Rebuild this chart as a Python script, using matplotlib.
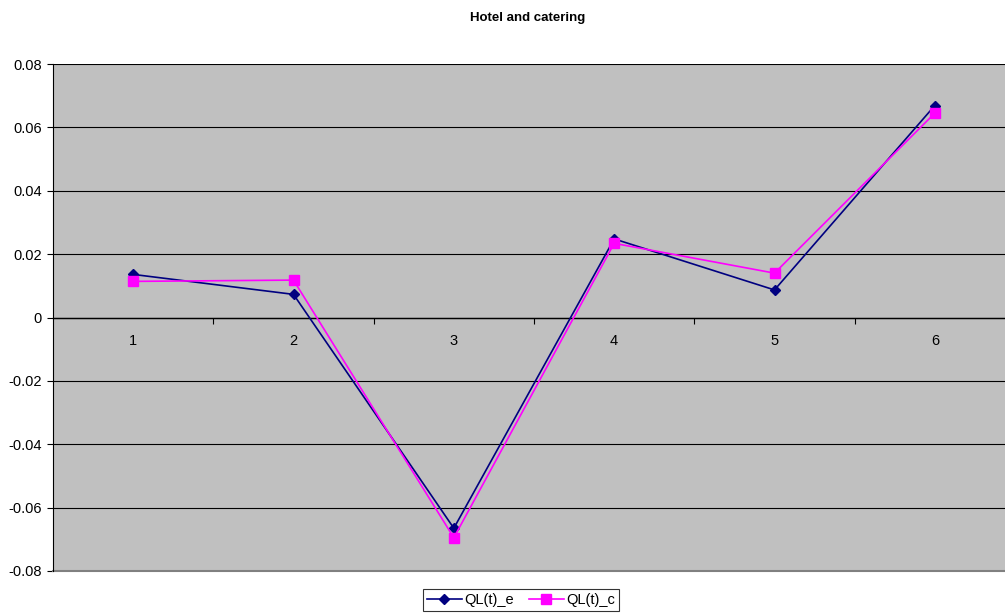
import matplotlib
matplotlib.use("Agg")
import matplotlib.pyplot as plt
from matplotlib.ticker import FixedLocator

plt.rcParams['font.family'] = ['Liberation Sans', 'DejaVu Sans']

periods = ["1", "2", "3", "4", "5", "6"]
ql_e = [0.0136, 0.0073, -0.0665, 0.0248, 0.0087, 0.0669]
ql_c = [0.0114, 0.0118, -0.0695, 0.0234, 0.0140, 0.0645]
yticks = [-0.08, -0.06, -0.04, -0.02, 0, 0.02, 0.04, 0.06, 0.08]

fig = plt.figure(figsize=(10.05, 6.16), dpi=100)
ax = fig.add_axes([53 / 1005, 45 / 616, 962 / 1005, 507 / 616])
ax.set_facecolor("#c0c0c0")

x = list(range(len(periods)))
ax.plot(x, ql_e, color="#000080", marker="D", markersize=5.5, lw=1.2, label="QL(t)_e", zorder=3)
ax.plot(x, ql_c, color="#ff00ff", marker="s", markersize=7, lw=1.2, label="QL(t)_c", zorder=3)

ax.set_xlim(-0.5, len(periods) - 0.5)
ax.set_ylim(-0.08, 0.08)
ax.set_yticks(yticks)
ax.set_yticklabels(["0" if v == 0 else f"{v:.2f}" for v in yticks], fontsize=10.5)
ax.yaxis.grid(True, color="black", lw=0.8)
ax.set_axisbelow(True)

# category axis sits on y = 0, ticks between categories
ax.spines["bottom"].set_position(("data", 0))
ax.spines["bottom"].set_color("black")
ax.spines["bottom"].set_linewidth(1.0)
ax.xaxis.set_major_locator(FixedLocator([i - 0.5 for i in range(1, len(periods))]))
ax.xaxis.set_minor_locator(FixedLocator(x))
ax.tick_params(axis="x", which="major", length=4, direction="out", labelbottom=False,
               bottom=True, top=False, color="black")
ax.tick_params(axis="x", which="minor", length=0, pad=12, labelsize=10.5)
ax.set_xticks(x, minor=True)
ax.set_xticklabels(periods, minor=True)

ax.tick_params(axis="y", length=4, color="black", pad=4)
ax.spines["left"].set_color("black")
ax.spines["right"].set_color("#808080")
ax.spines["top"].set_visible(False)

# gray frame on the bottom edge of the plot area
ax.axhline(-0.08, color="#808080", lw=1.5, clip_on=False)

fig.text(528 / 1005, 1 - 18 / 616, "Hotel and catering", ha="center", va="center",
         fontsize=9.5, fontweight="bold")

leg = fig.legend(loc="center", bbox_to_anchor=(521 / 1005, 1 - 600 / 616), ncol=2,
                 frameon=True, fancybox=False, fontsize=10.5, handlelength=2.4,
                 handletextpad=0.2, columnspacing=1.0, borderpad=0.25,
                 borderaxespad=0)
leg.get_frame().set_edgecolor("black")
leg.get_frame().set_linewidth(0.8)

fig.savefig("out.png", dpi=100)
